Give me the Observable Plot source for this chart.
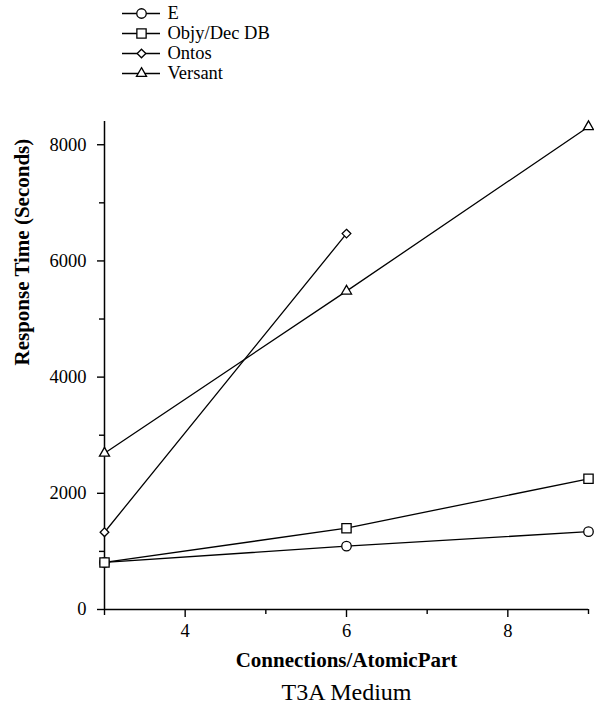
<!DOCTYPE html>
<html>
<head>
<meta charset="utf-8">
<script src="https://cdn.jsdelivr.net/npm/d3@7"></script>
<script src="https://cdn.jsdelivr.net/npm/@observablehq/plot@0.6"></script>
<style>
  body { margin: 0; background: #fff; }
  #chart svg { display: block; }
</style>
</head>
<body>
<div id="chart"></div>
<script>
// ---- data ----
const seriesNames = ["E", "Objy/Dec DB", "Ontos", "Versant"];
const xE = [3, 6, 9];
const eValues = [810, 1090, 1340];
const xObjy = [3, 6, 9];
const objyValues = [810, 1400, 2250];
const xOntos = [3, 6];
const ontosValues = [1330, 6470];
const xVersant = [3, 6, 9];
const versantValues = [2690, 5480, 8310];
const yTicks = [0, 2000, 4000, 6000, 8000];
const yMinorTicks = [1000, 3000, 5000, 7000];
const xTicks = [4, 6, 8];
const xMinorTicks = [5, 7, 9];
const xTitle = "Connections/AtomicPart";
const yTitle = "Response Time (Seconds)";
const caption = "T3A Medium";

const rows = [
  ...xE.map((x, i) => ({series: "E", x, y: eValues[i]})),
  ...xObjy.map((x, i) => ({series: "Objy/Dec DB", x, y: objyValues[i]})),
  ...xOntos.map((x, i) => ({series: "Ontos", x, y: ontosValues[i]})),
  ...xVersant.map((x, i) => ({series: "Versant", x, y: versantValues[i]}))
];

// ---- styles ----
const symbolOf = {"E": "circle", "Objy/Dec DB": "square2", "Ontos": "diamond2", "Versant": "triangle2"};
const radiusOf = {"E": 4.75, "Objy/Dec DB": 5.9, "Ontos": 3.9, "Versant": 4.8};
const font = "'Liberation Serif', 'Times New Roman', serif";
const plain = d => String(d);

const dotMarks = (data, opts) => seriesNames.map(s => Plot.dot(data.filter(d => d.series === s), {
  ...opts, symbol: () => symbolOf[s], r: radiusOf[s], fill: "white", stroke: "black", strokeWidth: 1.3
}));

// ---- legend ----
const legend = Plot.plot({
  width: 594, height: 95,
  margin: 0,
  style: {fontFamily: font, background: "white"},
  x: {domain: [0, 1], range: [122, 160], axis: null},
  y: {type: "point", domain: seriesNames, range: [12, 74], padding: 0, axis: null},
  symbol: {domain: seriesNames, range: seriesNames.map(s => symbolOf[s])},
  marks: [
    Plot.ruleY(seriesNames, {y: d => d, x1: 0, x2: 1, stroke: "black", strokeWidth: 1.3}),
    ...seriesNames.map(s => Plot.dot([s], {x: () => 0.5, y: d => d, symbol: () => symbolOf[s], r: radiusOf[s], fill: "white", stroke: "black", strokeWidth: 1.3})),
    Plot.text(seriesNames, {x: () => 1, y: d => d, text: d => d, textAnchor: "start", dx: 7, fontSize: 18.5, fill: "black"})
  ]
});

// ---- main chart ----
const chart = Plot.plot({
  width: 594, height: 620,
  marginLeft: 104, marginRight: 6, marginTop: 26, marginBottom: 106,
  style: {fontFamily: font, background: "white", color: "black"},
  x: {domain: [3, 9]},
  y: {domain: [0, 8400]},
  marks: [
    Plot.axisY({ticks: yTicks, tickFormat: plain, tickSize: 7, tickPadding: 11, fontSize: 18.5, label: null, strokeWidth: 1.4}),
    Plot.axisY({ticks: yMinorTicks, tickSize: 5, text: null, label: null, strokeWidth: 1.4}),
    Plot.axisX({ticks: xTicks, tickFormat: plain, tickSize: 8, tickPadding: 6, fontSize: 18.5, label: null, strokeWidth: 1.4}),
    Plot.axisX({ticks: xMinorTicks, tickSize: 5, text: null, label: null, strokeWidth: 1.4}),
    Plot.axisX({ticks: [3], tickSize: 6, text: null, label: null, strokeWidth: 1.4}),
    Plot.ruleX([3], {stroke: "black", strokeWidth: 1.5}),
    Plot.ruleY([0], {stroke: "black", strokeWidth: 1.5}),
    Plot.line(rows, {x: "x", y: "y", z: "series", stroke: "black", strokeWidth: 1.3}),
    ...dotMarks(rows, {x: "x", y: "y"}),
    Plot.text([yTitle], {frameAnchor: "left", dx: -82, rotate: -90, text: d => d, fontSize: 21, fontWeight: "bold", fill: "black"}),
    Plot.text([xTitle], {frameAnchor: "bottom", dy: 57, text: d => d, fontSize: 21, fontWeight: "bold", fill: "black"}),
    Plot.text([caption], {frameAnchor: "bottom", dy: 90, text: d => d, fontSize: 24, fill: "black"})
  ]
});

const root = document.getElementById("chart");
root.appendChild(legend);
root.appendChild(chart);
</script>
</body>
</html>
